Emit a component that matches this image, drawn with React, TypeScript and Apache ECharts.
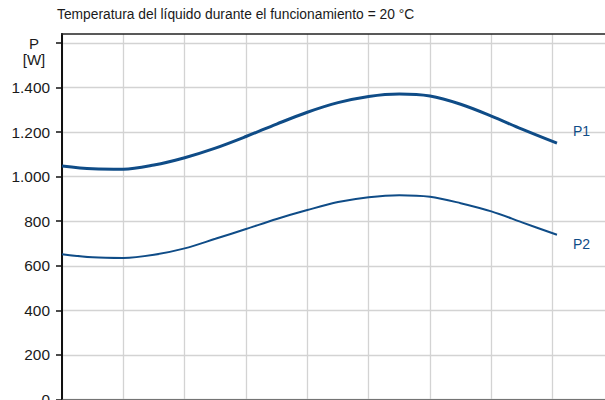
import React, { useEffect, useRef } from "react";
import * as echarts from "echarts";

const titleText = "Temperatura del líquido durante el funcionamiento = 20 °C";
const yTickValues = [0, 200, 400, 600, 800, 1000, 1200, 1400, 1600];
const yLabelValues = [0, 200, 400, 600, 800, 1000, 1200, 1400];
const unitLabel = "P\n[W]";

const xPoints = [0, 0.5, 1, 1.5, 2, 2.5, 3, 3.5, 4, 4.5, 5, 5.5, 6, 6.5, 7, 7.5, 8.07];
const p1Y = [1048, 1035, 1033, 1052, 1085, 1128, 1180, 1236, 1289, 1332, 1360, 1371, 1362, 1325, 1272, 1213, 1150];
const p2Y = [652, 638, 635, 649, 678, 721, 765, 810, 850, 886, 908, 917, 910, 881, 844, 795, 739];

const lineColor = "#0f4c87";

function fmt(v: number): string {
  if (v >= 1000) {
    return `${Math.floor(v / 1000)}.${String(v % 1000).padStart(3, "0")}`;
  }
  return String(v);
}

export default function App() {
  const ref = useRef<HTMLDivElement>(null);
  useEffect(() => {
    if (!ref.current) return;
    const chart = echarts.init(ref.current, undefined, { renderer: "svg" });
    const font = "'Liberation Sans', Arial, sans-serif";
    chart.setOption({
      animation: false,
      textStyle: { fontFamily: font },
      title: {
        text: titleText,
        left: 57,
        top: 7,
        padding: 0,
        textStyle: { fontSize: 13.8, fontWeight: "normal", color: "#1a1a1a", fontFamily: font },
      },
      grid: {
        left: 62,
        right: -9,
        top: 34,
        bottom: 0.5,
        containLabel: false,
        outerBoundsMode: "none",
      },
      xAxis: {
        type: "value",
        min: 0,
        max: 9,
        interval: 1,
        position: "bottom",
        axisLine: { show: true, lineStyle: { color: "#555", width: 1.5 } },
        axisTick: { show: false },
        axisLabel: { show: false },
        splitLine: { show: true, lineStyle: { color: "#d3d3d3", width: 1.3 } },
      },
      yAxis: {
        type: "value",
        min: 0,
        max: 1640,
        interval: 200,
        axisLine: { show: true, lineStyle: { color: "#111", width: 2 } },
        axisTick: {
          show: true,
          length: 6,
          customValues: yTickValues,
          lineStyle: { color: "#111", width: 1.5 },
        },
        axisLabel: {
          customValues: yLabelValues,
          formatter: (v: number) => fmt(v),
          fontSize: 15.4,
          color: "#1a1a1a",
          margin: 12,
          fontFamily: font,
        },
        splitLine: { show: true, lineStyle: { color: "#d3d3d3", width: 1.3 } },
      },
      graphic: [
        {
          type: "line",
          z: 100,
          shape: { x1: 61, y1: 34, x2: 605, y2: 34 },
          style: { stroke: "#222", lineWidth: 1.5 },
        },
        {
          type: "text",
          x: 34,
          y: 35,
          style: {
            text: unitLabel,
            align: "center",
            verticalAlign: "top",
            fontSize: 15,
            lineHeight: 16,
            fill: "#1a1a1a",
            fontFamily: font,
          },
        },
      ],
      series: [
        {
          name: "P1",
          type: "line",
          smooth: 0.33,
          smoothConstraint: false,
          symbol: "none",
          data: xPoints.map((x, i) => [x, p1Y[i]]),
          lineStyle: { color: lineColor, width: 3 },
          itemStyle: { color: lineColor },
          endLabel: {
            show: true,
            formatter: "{a}",
            color: lineColor,
            fontSize: 14,
            fontFamily: font,
            offset: [8, -12],
          },
        },
        {
          name: "P2",
          type: "line",
          smooth: 0.33,
          smoothConstraint: false,
          symbol: "none",
          data: xPoints.map((x, i) => [x, p2Y[i]]),
          lineStyle: { color: lineColor, width: 2 },
          itemStyle: { color: lineColor },
          endLabel: {
            show: true,
            formatter: "{a}",
            color: lineColor,
            fontSize: 14,
            fontFamily: font,
            offset: [8, 9],
          },
        },
      ],
    });
    return () => chart.dispose();
  }, []);
  return (
    <div
      ref={ref}
      style={{ position: "absolute", left: 0, top: 0, width: 605, height: 400 }}
    />
  );
}
